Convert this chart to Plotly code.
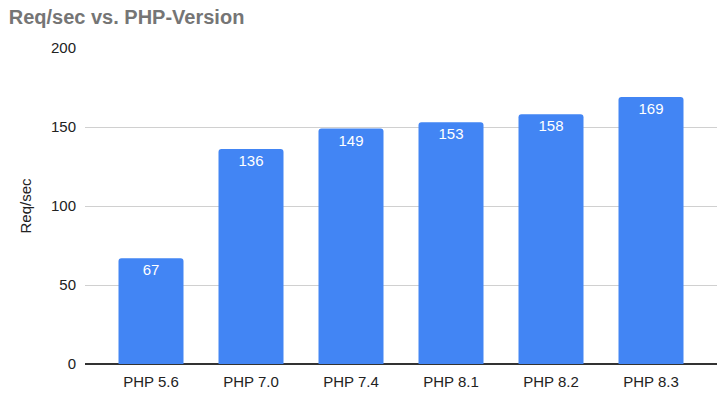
import plotly.graph_objects as go

categories = ["PHP 5.6", "PHP 7.0", "PHP 7.4", "PHP 8.1", "PHP 8.2", "PHP 8.3"]
req_per_sec = [67, 136, 149, 153, 158, 169]
y_ticks = [0, 50, 100, 150, 200]

FONT = "Arial, Liberation Sans, sans-serif"

fig = go.Figure(
    go.Bar(
        x=list(range(len(categories))),
        y=req_per_sec,
        width=0.65,
        marker=dict(color="#4285F4", cornerradius=3, line=dict(width=0)),
        text=[str(v) for v in req_per_sec],
        textposition="inside",
        insidetextanchor="end",
        constraintext="none",
        textfont=dict(color="white", size=15, family=FONT),
        textangle=0,
    )
)

fig.update_layout(
    width=725,
    height=394,
    margin=dict(l=85, r=8, t=48, b=30),
    paper_bgcolor="white",
    plot_bgcolor="white",
    showlegend=False,
    font=dict(family=FONT, color="#222222", size=15),
    title=dict(
        text="<b>Req/sec vs. PHP-Version</b>",
        x=0.012,
        xanchor="left",
        y=0.958,
        yanchor="middle",
        font=dict(size=20, color="#757575", family=FONT),
    ),
    xaxis=dict(
        tickmode="array",
        tickvals=list(range(len(categories))),
        ticktext=categories,
        range=[-0.66, 5.66],
        showgrid=False,
        zeroline=False,
        showline=False,
        ticks="outside",
        ticklen=4,
        tickcolor="rgba(0,0,0,0)",
        automargin=False,
        tickfont=dict(size=15, color="#222222"),
    ),
    yaxis=dict(
        range=[0, 200],
        tickvals=y_ticks,
        showgrid=True,
        gridcolor="#d0d0d0",
        gridwidth=1,
        zeroline=True,
        zerolinecolor="#333333",
        zerolinewidth=1.5,
        showline=False,
        ticks="",
        ticklabelstandoff=8,
        automargin=False,
        tickfont=dict(size=15, color="#222222"),
        title=dict(text="Req/sec", font=dict(size=15, color="#222222"), standoff=15),
    ),
)

fig.write_html("out.html")
